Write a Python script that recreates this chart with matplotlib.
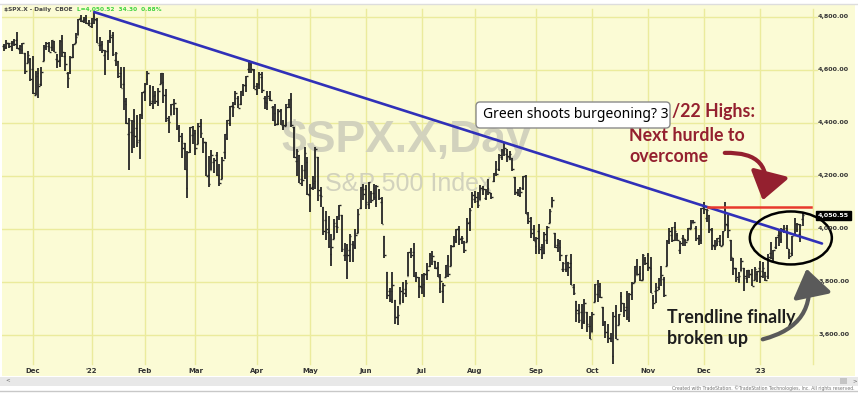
import numpy as np
import matplotlib
matplotlib.use("Agg")
import matplotlib.pyplot as plt
from matplotlib.patches import Ellipse, FancyArrowPatch, FancyBboxPatch, Rectangle

# Daily $SPX.X bars, 15 Nov 2021 .. 26 Jan 2023 (one line per month)
opens = [
    4689, 4685, 4701, 4700, 4708, 4712, 4679, 4675, 4664, 4628, 4640,
    4602, 4505, 4590, 4548, 4632, 4690, 4690, 4688, 4711, 4643, 4637, 4719, 4653, 4587, 4595, 4650, 4703, 4733, 4796, 4788, 4795, 4776,
    4779, 4804, 4787, 4693, 4698, 4656, 4670, 4729, 4733, 4637, 4632, 4588, 4548, 4472, 4357, 4367, 4409, 4381, 4337, 4431,
    4519, 4566, 4536, 4483, 4505, 4480, 4548, 4554, 4506, 4413, 4429, 4455, 4457, 4385, 4332, 4324, 4156, 4298, 4354,
    4364, 4322, 4401, 4343, 4327, 4203, 4224, 4253, 4280, 4203, 4188, 4289, 4345, 4398, 4463, 4470, 4494, 4470, 4523, 4542, 4603, 4624, 4600,
    4541, 4547, 4573, 4495, 4475, 4494, 4462, 4437, 4395, 4449, 4385, 4390, 4473, 4490, 4385, 4255, 4278, 4187, 4223, 4253,
    4130, 4159, 4182, 4270, 4129, 4082, 4035, 3990, 3904, 3963, 4013, 4052, 4051, 3900, 3928, 3920, 3942, 3933, 3984, 4078, 4151,
    4149, 4095, 4137, 4135, 4097, 4148, 4102, 3974, 3838, 3764, 3764, 3733, 3666, 3715, 3733, 3775, 3821, 3920, 3913, 3826, 3786,
    3781, 3792, 3831, 3860, 3889, 3880, 3855, 3776, 3764, 3818, 3883, 3860, 3935, 3955, 3998, 3966, 3953, 3951, 4026, 4088,
    4113, 4105, 4108, 4154, 4116, 4156, 4134, 4181, 4227, 4225, 4270, 4291, 4281, 4273, 4267, 4196, 4134, 4127, 4154, 4198, 4034, 4041, 4000,
    3937, 3994, 3930, 3909, 3960, 4023, 4084, 3986, 3940, 3933, 3847, 3849, 3876, 3871, 3782, 3727, 3682, 3687, 3651, 3687, 3633,
    3610, 3726, 3753, 3771, 3706, 3647, 3596, 3590, 3520, 3691, 3638, 3747, 3685, 3706, 3657, 3763, 3799, 3825, 3834, 3809, 3881,
    3901, 3853, 3733, 3767, 3780, 3817, 3810, 3859, 3963, 3978, 4007, 3976, 3920, 3967, 3957, 3957, 4001, 4024, 4005, 3965, 3958,
    4087, 4041, 4053, 3997, 3934, 3948, 3954, 3940, 4069, 4015, 3958, 3890, 3853, 3811, 3840, 3853, 3816, 3844, 3829, 3806, 3829,
    3853, 3840, 3839, 3823, 3911, 3889, 3932, 3977, 3961, 3999, 4002, 3912, 3910, 3979, 4001, 3982, 4036,
]
highs = [
    4697, 4715, 4701, 4708, 4718, 4744, 4694, 4702, 4664, 4673, 4646,
    4653, 4595, 4608, 4612, 4694, 4706, 4706, 4713, 4711, 4660, 4712, 4732, 4666, 4591, 4652, 4697, 4740, 4791, 4808, 4799, 4808, 4787,
    4797, 4819, 4798, 4726, 4708, 4674, 4714, 4749, 4745, 4666, 4632, 4612, 4611, 4495, 4418, 4412, 4453, 4429, 4432, 4516,
    4550, 4595, 4542, 4540, 4521, 4531, 4590, 4589, 4527, 4426, 4473, 4490, 4457, 4394, 4363, 4326, 4295, 4385, 4389,
    4375, 4401, 4416, 4343, 4328, 4277, 4299, 4268, 4292, 4247, 4272, 4358, 4413, 4465, 4481, 4522, 4501, 4521, 4546, 4576, 4637, 4628, 4603,
    4549, 4594, 4593, 4503, 4521, 4521, 4464, 4471, 4453, 4453, 4411, 4471, 4489, 4512, 4385, 4300, 4278, 4240, 4308, 4270,
    4169, 4200, 4308, 4270, 4158, 4082, 4069, 4049, 3981, 4039, 4047, 4090, 4051, 3946, 3944, 3982, 3955, 3999, 4075, 4159, 4169,
    4167, 4177, 4142, 4168, 4164, 4150, 4120, 3974, 3838, 3779, 3838, 3733, 3708, 3780, 3801, 3808, 3914, 3928, 3946, 3837, 3818,
    3829, 3832, 3870, 3910, 3918, 3880, 3874, 3829, 3797, 3864, 3902, 3940, 3975, 4000, 4013, 3975, 3953, 4040, 4078, 4141,
    4144, 4141, 4167, 4162, 4151, 4187, 4136, 4212, 4257, 4281, 4302, 4325, 4302, 4293, 4267, 4196, 4149, 4157, 4200, 4204, 4063, 4044, 4016,
    3970, 4019, 3942, 3987, 4010, 4076, 4120, 3986, 3962, 3957, 3874, 3900, 3876, 3907, 3791, 3727, 3716, 3717, 3737, 3687, 3672,
    3687, 3791, 3807, 3797, 3707, 3653, 3640, 3608, 3685, 3712, 3680, 3762, 3721, 3764, 3757, 3800, 3862, 3886, 3860, 3905, 3893,
    3911, 3894, 3750, 3796, 3814, 3860, 3818, 3959, 4002, 4009, 4028, 3984, 3955, 3979, 3962, 4004, 4034, 4034, 4013, 3976, 4080,
    4101, 4077, 4053, 4002, 3957, 3966, 3978, 3991, 4101, 4054, 3958, 3890, 3854, 3838, 3889, 3853, 3846, 3846, 3849, 3858, 3840,
    3879, 3874, 3839, 3907, 3951, 3921, 3970, 3997, 4003, 4015, 4015, 3923, 3973, 4040, 4023, 4020, 4061,
]
lows = [
    4673, 4679, 4684, 4673, 4692, 4680, 4661, 4660, 4586, 4625, 4560,
    4511, 4504, 4495, 4541, 4632, 4675, 4667, 4671, 4667, 4607, 4611, 4650, 4598, 4531, 4583, 4645, 4703, 4733, 4781, 4778, 4775, 4765,
    4759, 4775, 4700, 4671, 4663, 4582, 4638, 4701, 4651, 4614, 4568, 4533, 4450, 4396, 4223, 4288, 4305, 4309, 4264, 4414,
    4484, 4544, 4465, 4452, 4471, 4464, 4548, 4477, 4402, 4364, 4429, 4429, 4374, 4328, 4267, 4222, 4115, 4287, 4320,
    4279, 4322, 4345, 4285, 4199, 4157, 4224, 4210, 4200, 4162, 4188, 4263, 4335, 4390, 4424, 4469, 4455, 4466, 4502, 4517, 4589, 4588, 4530,
    4507, 4528, 4514, 4451, 4450, 4483, 4408, 4387, 4393, 4392, 4373, 4390, 4455, 4385, 4267, 4200, 4175, 4162, 4188, 4129,
    4063, 4147, 4152, 4107, 4081, 3976, 3958, 3929, 3859, 3963, 3984, 4034, 3912, 3878, 3810, 3875, 3875, 3925, 3984, 4077, 4110,
    4074, 4074, 4098, 4110, 4081, 4108, 4017, 3889, 3734, 3725, 3722, 3640, 3637, 3715, 3722, 3744, 3821, 3890, 3820, 3799, 3739,
    3753, 3742, 3809, 3858, 3865, 3848, 3817, 3759, 3722, 3818, 3819, 3860, 3930, 3946, 3939, 3944, 3911, 3951, 3992, 4079,
    4097, 4079, 4108, 4129, 4108, 4127, 4112, 4177, 4201, 4219, 4262, 4277, 4253, 4262, 4219, 4130, 4123, 4122, 4147, 4057, 4017, 3965, 3954,
    3904, 3907, 3886, 3906, 3945, 4023, 4084, 3928, 3913, 3880, 3838, 3838, 3822, 3790, 3749, 3648, 3645, 3623, 3641, 3610, 3584,
    3610, 3726, 3723, 3739, 3633, 3588, 3568, 3574, 3492, 3584, 3638, 3686, 3668, 3657, 3647, 3733, 3799, 3825, 3803, 3808, 3863,
    3843, 3759, 3698, 3721, 3770, 3786, 3745, 3859, 3944, 3949, 3954, 3955, 3907, 3937, 3934, 3957, 3999, 4021, 3956, 3938, 3944,
    4058, 4027, 3985, 3919, 3922, 3936, 3934, 3939, 3994, 3966, 3879, 3828, 3800, 3796, 3840, 3764, 3797, 3813, 3783, 3806, 3801,
    3795, 3815, 3802, 3810, 3888, 3877, 3925, 3937, 3947, 3985, 3925, 3886, 3899, 3974, 3989, 3949, 4013,
]
closes = [
    4683, 4701, 4689, 4705, 4698, 4683, 4691, 4701, 4595, 4655, 4567,
    4513, 4577, 4538, 4592, 4687, 4701, 4667, 4712, 4669, 4634, 4710, 4669, 4621, 4568, 4649, 4697, 4726, 4791, 4786, 4793, 4779, 4766,
    4797, 4794, 4701, 4696, 4677, 4670, 4713, 4726, 4659, 4663, 4577, 4533, 4483, 4398, 4410, 4356, 4350, 4327, 4432, 4516,
    4547, 4589, 4477, 4501, 4484, 4522, 4587, 4504, 4419, 4402, 4471, 4475, 4380, 4349, 4305, 4226, 4289, 4385, 4374,
    4306, 4387, 4363, 4329, 4201, 4171, 4278, 4260, 4204, 4173, 4262, 4358, 4412, 4463, 4461, 4512, 4456, 4520, 4543, 4576, 4632, 4602, 4530,
    4546, 4583, 4525, 4481, 4500, 4488, 4413, 4397, 4447, 4393, 4392, 4462, 4459, 4394, 4272, 4296, 4175, 4184, 4288, 4132,
    4155, 4175, 4300, 4147, 4123, 3991, 4001, 3935, 3930, 4024, 4008, 4089, 3924, 3901, 3901, 3974, 3941, 3979, 4058, 4158, 4132,
    4101, 4177, 4109, 4121, 4161, 4116, 4018, 3901, 3750, 3735, 3790, 3667, 3675, 3765, 3760, 3796, 3912, 3900, 3822, 3819, 3785,
    3825, 3831, 3845, 3903, 3899, 3854, 3819, 3802, 3790, 3863, 3831, 3937, 3960, 3999, 3962, 3967, 3921, 4024, 4072, 4130,
    4119, 4091, 4155, 4152, 4145, 4140, 4122, 4210, 4207, 4280, 4297, 4305, 4274, 4284, 4228, 4138, 4129, 4141, 4199, 4058, 4031, 3986, 3955,
    3967, 3924, 3908, 3980, 4006, 4067, 4110, 3933, 3946, 3901, 3873, 3900, 3856, 3790, 3758, 3693, 3655, 3647, 3719, 3640, 3586,
    3678, 3791, 3783, 3745, 3640, 3612, 3589, 3577, 3670, 3583, 3678, 3720, 3695, 3666, 3753, 3797, 3859, 3831, 3807, 3901, 3872,
    3856, 3760, 3720, 3771, 3807, 3828, 3749, 3956, 3993, 3957, 3992, 3959, 3947, 3965, 3950, 4004, 4027, 4026, 3964, 3958, 4080,
    4077, 4072, 3999, 3941, 3934, 3964, 3934, 3991, 4020, 3995, 3896, 3852, 3818, 3822, 3878, 3822, 3845, 3829, 3783, 3849, 3840,
    3824, 3853, 3808, 3895, 3892, 3919, 3970, 3983, 3999, 3991, 3929, 3899, 3973, 4020, 4017, 4016, 4051,
]

# trading days per calendar month shown and the axis label for its first day
month_days = [11, 22, 20, 19, 23, 20, 21, 21, 20, 23, 21, 21, 21, 21, 20]
month_labels = ["", "Dec", "'22", "Feb", "Mar", "Apr", "May", "Jun", "Jul",
                "Aug", "Sep", "Oct", "Nov", "Dec", "'23"]
price_ticks = [3600, 3800, 4000, 4200, 4400, 4600, 4800]
last_price = 4050.55
hurdle = 4084
trend_start = (34, 4818.6)
trend_end = (307.3, 3945)

W, H = 858, 396
fig = plt.figure(figsize=(W / 100, H / 100), dpi=100)
fig.patch.set_facecolor("white")

bg = "#fbfbd5"
grid_c = "#ebeb9c"

ax = fig.add_axes([2 / W, 1 - 376 / H, 853 / W, 372 / H])
ax.set_facecolor(bg)
ax.set_xlim(-0.64, 319.7)
ax.set_ylim(3445, 4849)
for s in ax.spines.values():
    s.set_visible(False)
ax.set_xticks([])
ax.set_yticks([])

# grid
for p in price_ticks:
    ax.plot([-0.64, 305.5], [p, p], color=grid_c, lw=1.0, zorder=1)
starts = np.cumsum([0] + month_days[:-1])
for i, lab in zip(starts[1:], month_labels[1:]):
    ax.plot([i, i], [3492, 4830], color=grid_c, lw=1.0, zorder=1)
    ax.text(i, 3462, lab, ha="center", va="center", fontsize=5,
            fontweight="bold", color="#333333")
feb = starts[-1] + month_days[-1]
ax.plot([feb, feb], [3492, 4830], color=grid_c, lw=1.0, zorder=1)

# watermark
ax.text(151, 4291, "$SPX.X,Day", ha="center", va="baseline", fontsize=32,
        fontweight="bold", family="Liberation Sans", color="#d2d2bd", zorder=2)
ax.text(152, 4143, "S&P 500 Index", ha="center", va="baseline", fontsize=18,
        family="Liberation Sans", color="#d2d2bd", zorder=2)

# OHLC bars
x = np.arange(len(closes))
ax.vlines(x, lows, highs, color="#262626", lw=1.3, zorder=3)
ax.hlines(opens, x - 0.6, x, color="#262626", lw=1.0, zorder=3)
ax.hlines(closes, x, x + 0.6, color="#262626", lw=1.0, zorder=3)

# trendline, hurdle line, ellipse
ax.plot([trend_start[0], trend_end[0]], [trend_start[1], trend_end[1]],
        color="#3030b8", lw=1.9, zorder=4, solid_capstyle="round")
ax.plot([264.5, 303], [hurdle, hurdle], color="#e8392c", lw=1.8, zorder=4)
ax.add_patch(Ellipse((295.6, 3966), 30.8, 200, fill=False, ec="black",
                     lw=1.8, zorder=5))

# price scale
for p in price_ticks:
    ax.text(317.5, p, f"{p:,.2f}", ha="right", va="center", fontsize=4.6,
            fontweight="bold", color="#333333", zorder=5)
ax.text(317.5, last_price, f"{last_price:,.2f}", ha="right", va="center",
        fontsize=4.6, fontweight="bold", color="white", zorder=6,
        bbox=dict(boxstyle="square,pad=0.25", fc="black", ec="black"))


def fy(y):
    return H - y


# header
fig.text(4 / W, fy(9) / H, "$SPX.X - Daily  CBOE", fontsize=4.2,
         fontweight="bold", color="#444444", va="center")
fig.text(77 / W, fy(9) / H, "L=4,050.52  34.30  0.88%", fontsize=4.2,
         fontweight="bold", color="#3fd33f", va="center")

# annotations
red = "#94202f"
fig.text(672 / W, fy(111) / H, "/22 Highs:", fontsize=12.8, fontweight="bold",
         family="Lato", color=red, va="center", ha="left")
fig.text(629 / W, fy(146) / H, "Next hurdle to\novercome",
         fontsize=12.8, fontweight="bold", family="Lato", color=red,
         va="center", ha="left", linespacing=1.3)
box = FancyBboxPatch((476, fy(128)), 194, 26, boxstyle="round,pad=0,rounding_size=4",
                     transform=None, fc="white", ec="#8a8a8a", lw=1.0, zorder=10)
fig.patches.append(box)
fig.text(483 / W, fy(115) / H, "Green shoots burgeoning? 3", fontsize=10,
         family="Noto Sans", color="black", va="center", zorder=11)

fig.patches.append(FancyArrowPatch((722, fy(153)), (762, fy(203)),
                                   connectionstyle="arc3,rad=-0.7",
                                   arrowstyle="-|>,head_length=1.2,head_width=0.85",
                                   mutation_scale=14, lw=3, color=red,
                                   transform=None, zorder=9))

fig.text(667 / W, fy(328) / H, "Trendline finally\nbroken up", fontsize=12.8,
         fontweight="bold", family="Lato", color="#1e1e1e", va="center",
         ha="left", linespacing=1.3)
fig.patches.append(FancyArrowPatch((760, fy(340)), (806, fy(266)),
                                   connectionstyle="arc3,rad=0.5",
                                   arrowstyle="-|>,head_length=1.2,head_width=0.85",
                                   mutation_scale=14, lw=3, color="#5a5a5a",
                                   transform=None, zorder=9))

# frame bits: scroll bar, footer, borders
fig.patches.append(Rectangle((0, fy(386)), W, 9, transform=None,
                             fc="#e8e8e8", ec="none", zorder=0))
fig.patches.append(Rectangle((840, fy(384)), 7, 6, transform=None,
                             fc="#c4c4c4", ec="none", zorder=1))
fig.text(852 / W, fy(381) / H, ">", fontsize=4, color="#666666", va="center")
fig.text(5 / W, fy(380) / H, "<", fontsize=4, color="#666666", va="center")
fig.text(855 / W, fy(388) / H,
         "Created with TradeStation. \u00a9TradeStation Technologies, Inc. All rights reserved.",
         fontsize=3.3, color="#777777", ha="right", va="center")
fig.add_artist(plt.Line2D([0, 1], [fy(391) / H] * 2, color="#c8c8c8", lw=1))
fig.add_artist(plt.Line2D([0, 1], [fy(3.5) / H] * 2, color="#dddddd", lw=1))

fig.savefig("out.png", dpi=100)
